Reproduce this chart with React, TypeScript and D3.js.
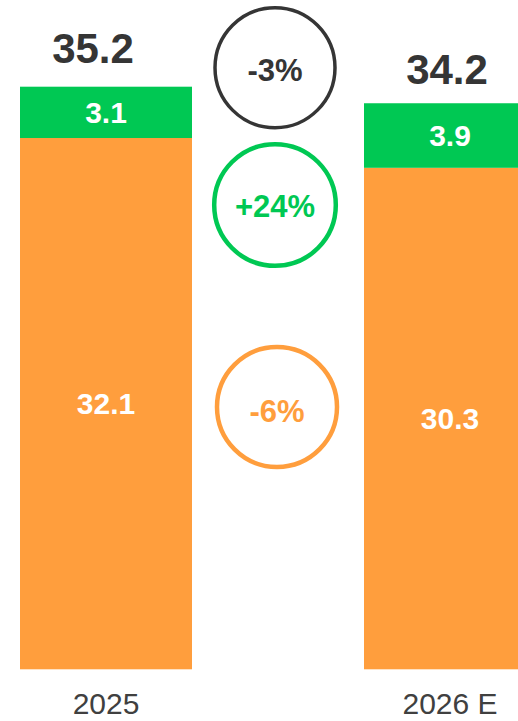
import React from "react";
import * as d3 from "d3";

const categories = ["2025", "2026 E"];
const baseValues = [32.1, 30.3];
const topValues = [3.1, 3.9];
const totals = [35.2, 34.2];
const changeLabels = ["-3%", "+24%", "-6%"];

const W = 518;
const H = 721;
const FONT = "'Liberation Sans', Arial, Helvetica, sans-serif";
const ORANGE = "#FF9E3D";
const GREEN = "#00C853";
const DARK = "#353535";

export default function App() {
  const x = d3
    .scaleBand<string>()
    .domain(categories)
    .range([20, 20 + 344 * 1.5])
    .paddingInner(0.5)
    .paddingOuter(0);
  const y = d3.scaleLinear().domain([0, 35.2]).range([669.3, 86.7]);
  const bw = x.bandwidth();

  const totalDx = [-13, -3];
  const totalDy = [-24, -19];

  const circles = [
    { cx: 275, cy: 67.7, r: 60, color: DARK, sw: 3.5, ty: 70 },
    { cx: 275, cy: 205, r: 60.8, color: GREEN, sw: 4.5, ty: 206 },
    { cx: 277, cy: 407, r: 60, color: ORANGE, sw: 4.5, ty: 411 },
  ];

  return (
    <svg
      width={W}
      height={H}
      style={{ position: "absolute", left: 0, top: 0, background: "#fff" }}
      fontFamily={FONT}
    >
      {categories.map((c, i) => {
        const x0 = x(c)!;
        const cx = x0 + bw / 2;
        const yBaseTop = y(baseValues[i]);
        const yTop = y(baseValues[i] + topValues[i]);
        return (
          <g key={c}>
            <rect x={x0} y={yBaseTop} width={bw} height={y(0) - yBaseTop} fill={ORANGE} />
            <rect x={x0} y={yTop} width={bw} height={yBaseTop - yTop} fill={GREEN} />
            <text
              x={cx}
              y={(yBaseTop + y(0)) / 2}
              dy="0.36em"
              textAnchor="middle"
              fill="#fff"
              fontWeight="bold"
              fontSize={30}
            >
              {baseValues[i].toFixed(1)}
            </text>
            <text
              x={cx}
              y={(yTop + yBaseTop) / 2}
              dy="0.36em"
              textAnchor="middle"
              fill="#fff"
              fontWeight="bold"
              fontSize={30}
            >
              {topValues[i].toFixed(1)}
            </text>
            <text
              x={cx + totalDx[i]}
              y={y(totals[i]) + totalDy[i]}
              textAnchor="middle"
              fill={DARK}
              fontWeight="bold"
              fontSize={42}
            >
              {totals[i].toFixed(1)}
            </text>
            <text x={cx} y={714} textAnchor="middle" fill="#404040" fontSize={30}>
              {c}
            </text>
          </g>
        );
      })}
      {circles.map((c, i) => (
        <g key={i}>
          <circle cx={c.cx} cy={c.cy} r={c.r} fill="none" stroke={c.color} strokeWidth={c.sw} />
          <text
            x={c.cx}
            y={c.ty}
            dy="0.36em"
            textAnchor="middle"
            fill={c.color}
            fontWeight="bold"
            fontSize={31}
          >
            {changeLabels[i]}
          </text>
        </g>
      ))}
    </svg>
  );
}
